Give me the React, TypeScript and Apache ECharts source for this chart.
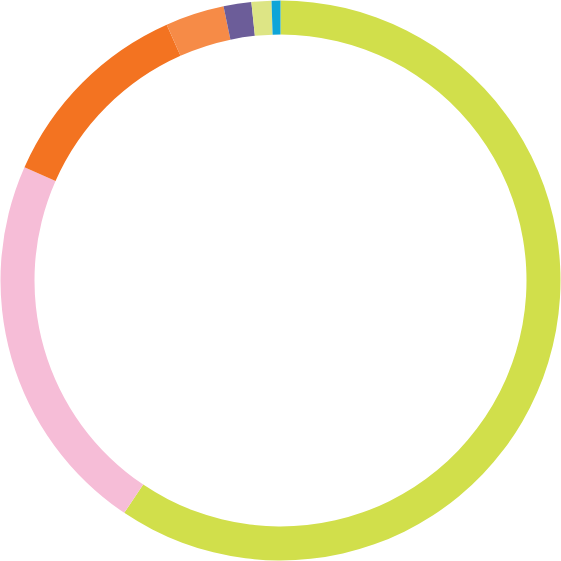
import React, { useEffect, useRef } from "react";
import * as echarts from "echarts";

const categories = ["A", "B", "C", "D", "E", "F", "G"];
const values = [59.4, 22.2, 11.7, 3.4, 1.6, 1.15, 0.51];
const colors = ["#d1df4b", "#f6bdd7", "#f37321", "#f68b47", "#6c5d99", "#dde585", "#0ea5d8"];

export default function App() {
  const ref = useRef<HTMLDivElement>(null);
  useEffect(() => {
    if (!ref.current) return;
    const chart = echarts.init(ref.current, null, { renderer: "svg" });
    chart.setOption({
      animation: false,
      backgroundColor: "#ffffff",
      series: [
        {
          type: "pie",
          center: [280.5, 280.5],
          radius: [246, 280],
          startAngle: 90,
          clockwise: true,
          label: { show: false },
          labelLine: { show: false },
          itemStyle: { borderWidth: 0 },
          emphasis: { disabled: true },
          data: categories.map((c, i) => ({
            name: c,
            value: values[i],
            itemStyle: { color: colors[i] },
          })),
        },
      ],
    });
    return () => chart.dispose();
  }, []);
  return (
    <div
      ref={ref}
      style={{ position: "fixed", left: 0, top: 0, width: 561, height: 561 }}
    />
  );
}
